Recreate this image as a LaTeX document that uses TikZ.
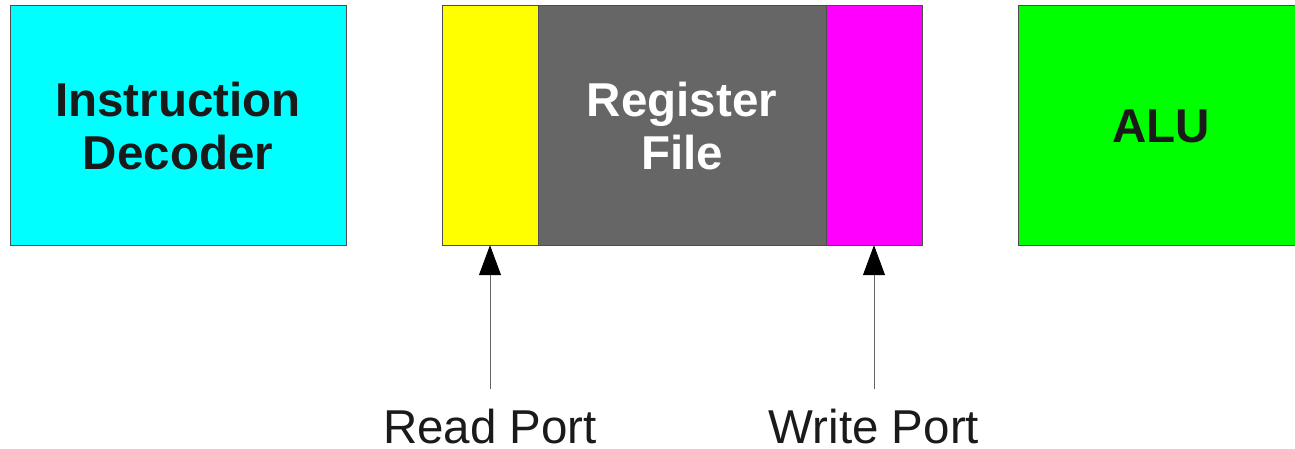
\documentclass[tikz,border=0pt]{standalone}
\usepackage{fontspec}
\setmainfont{Liberation Sans}
\usetikzlibrary{arrows.meta}
\definecolor{edge}{HTML}{4D4D4D}
\definecolor{ink}{HTML}{1A1A1A}
\definecolor{regfill}{HTML}{666666}
\definecolor{decfill}{HTML}{00FFFF}
\definecolor{rdfill}{HTML}{FFFF00}
\definecolor{wrfill}{HTML}{FF00FF}
\definecolor{alufill}{HTML}{00FF00}
\begin{document}
\begin{tikzpicture}[x=1pt,y=-1pt,
  block/.style={draw=edge,line width=1pt,inner sep=0pt},
  title/.style={font=\fontsize{47.5}{53}\selectfont\bfseries,align=center,text=ink},
  portlabel/.style={font=\fontsize{47.5}{53}\selectfont,text=ink,anchor=base,inner sep=0pt},
  portarrow/.style={draw=gray!80!black,line width=0.8pt,
    -{Triangle[length=30pt,width=22pt,color=black,fill=black]}}]
\useasboundingbox (0,0) rectangle (1295,449);
% blocks
\path[block,fill=decfill] (10,6) rectangle (346,245);
\node[title] (dec) at (178,126) {Instruction\\Decoder};
\path[block,fill=regfill] (538,6) rectangle (826,245);
\node[title,text=white] (rf) at (682,126) {Register\\File};
\path[block,fill=rdfill] (442,6) rectangle (538,245);
\node[inner sep=0pt,minimum width=96pt,minimum height=239pt] (rd) at (490,125.5) {};
\path[block,fill=wrfill] (826,6) rectangle (922,245);
\node[inner sep=0pt,minimum width=96pt,minimum height=239pt] (wr) at (874,125.5) {};
\path[block,fill=alufill] (1018,6) rectangle (1310,245);
\node[title] (alu) at (1161,126) {ALU};
% ports
\coordinate (rdfoot) at (490,389);
\coordinate (wrfoot) at (874,389);
\draw[portarrow] (rdfoot) -- (rd.south);
\draw[portarrow] (wrfoot) -- (wr.south);
\node[portlabel] (rdl) at (490,443) {Read Port};
\node[portlabel] (wrl) at (874,443) {Write Port};
\end{tikzpicture}
\end{document}
